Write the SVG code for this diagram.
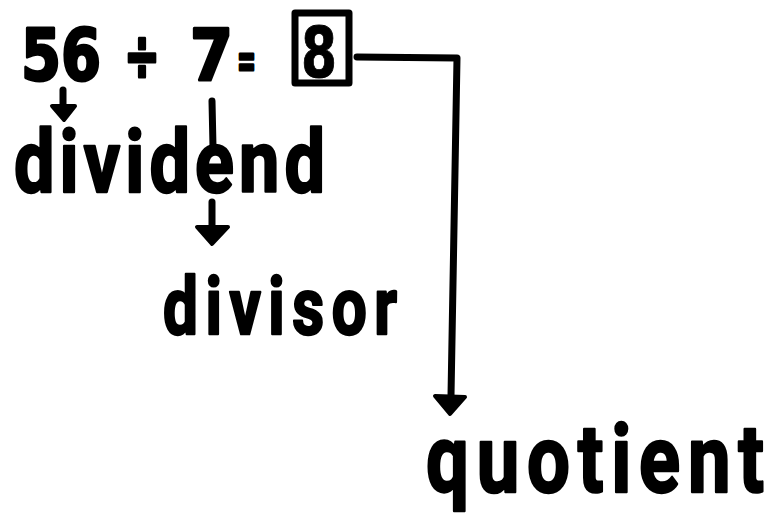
<svg xmlns="http://www.w3.org/2000/svg" width="772" height="518" viewBox="0 0 772 518">
  <style>
    .t { font-family: "DejaVu Sans", "Liberation Sans", sans-serif; font-weight: bold; fill: #000; stroke: #000; stroke-width: 3; stroke-linejoin: round; }
    .w { font-family: Roboto, "Liberation Sans", sans-serif; font-weight: bold; fill: #000; stroke: #000; stroke-width: 2; stroke-linejoin: round; stroke-linecap: round; }
    .c { fill: none; stroke: #000; stroke-width: 7; stroke-linecap: round; stroke-linejoin: round; }
    .h { fill: #000; stroke: #000; stroke-width: 4; stroke-linejoin: round; }
  </style>
  <rect width="772" height="518" fill="#fff"/>
  <g id="equation">
    <text class="t" font-size="72" y="80"><tspan x="21" textLength="80" lengthAdjust="spacingAndGlyphs">56</tspan><tspan x="124" textLength="36" lengthAdjust="spacingAndGlyphs">÷</tspan><tspan x="190" textLength="43" lengthAdjust="spacingAndGlyphs">7</tspan><tspan x="237" font-size="46" y="77" textLength="19" lengthAdjust="spacingAndGlyphs">=</tspan></text>
  </g>
  <g id="quotient-box">
    <rect x="295" y="13" width="54" height="70" fill="none" stroke="#000" stroke-width="7" stroke-linejoin="round"/>
    <text class="t" font-size="70" x="301" y="77" textLength="36" lengthAdjust="spacingAndGlyphs" style="stroke-width:1">8</text>
  </g>
  <g id="dividend">
    <text class="w" font-size="72" transform="translate(14,192) scale(1,1.2)" x="0" y="0" textLength="311" lengthAdjust="spacing">dividend</text>
  </g>
  <g id="divisor">
    <text class="w" font-size="62" transform="translate(163,334) scale(1,1.3)" x="0" y="0" textLength="234" lengthAdjust="spacing">divisor</text>
  </g>
  <g id="quotient">
    <text class="w" font-size="76" transform="translate(426,492) scale(1,1.25)" x="0" y="0" textLength="338" lengthAdjust="spacing">quotient</text>
  </g>
  <g id="connectors">
    <path class="c" d="M63,90 L63,106"/>
    <path class="h" d="M52,106 L75,106 L64,120 Z"/>
    <path class="c" d="M212,101 L213,147"/>
    <path class="c" d="M212,202 L212,228"/>
    <path class="h" d="M197,227 L228,227 L212,244 Z"/>
    <path class="c" d="M357,57 L457,58 L451,396"/>
    <path class="h" d="M435,396 L465,397 L450,414 Z"/>
  </g>
</svg>
